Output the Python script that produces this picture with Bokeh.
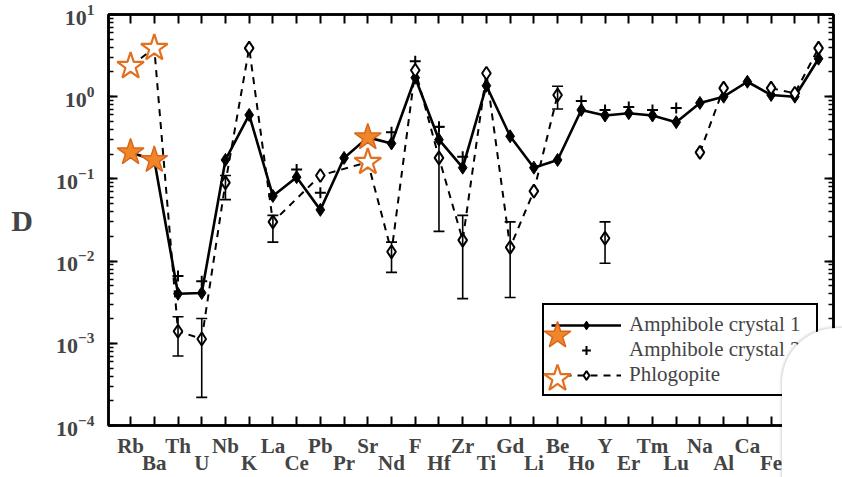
import math
from bokeh.plotting import figure
from bokeh.models import (ColumnDataSource, FixedTicker, LinearAxis, LogAxis, LogTicker,
                          Whisker, TeeHead, Legend, LegendItem, CustomJSTickFormatter,
                          Range1d, Div, Column)
from bokeh.embed import file_html
from bokeh.resources import INLINE

nan = float("nan")

# ---- data ----
elements = ["Rb", "Ba", "Th", "U", "Nb", "K", "La", "Ce", "Pb", "Pr", "Sr", "Nd", "F", "Hf", "Zr",
            "Ti", "Gd", "Li", "Be", "Ho", "Y", "Er", "Tm", "Lu", "Na", "Al", "Ca", "Fe", "Si", "Mg"]

amph1 = [0.21, 0.17, 0.0040, 0.0041, 0.17, 0.60, 0.062, 0.105, 0.042, 0.18, 0.32, 0.27, 1.70, 0.30, 0.137,
         1.36, 0.33, 0.137, 0.17, 0.69, 0.59, 0.63, 0.59, 0.49, 0.84, 1.0, 1.52, 1.05, 1.0, 2.9]

amph2 = [nan, nan, 0.0066, 0.0057, nan, nan, nan, 0.13, 0.068, nan, nan, 0.37, 2.7, 0.43, 0.186,
         nan, nan, nan, nan, 0.885, 0.69, 0.75, 0.69, 0.73, nan, nan, nan, nan, nan, nan]

phlog = [2.35, 3.9, 0.0014, 0.00113, 0.09, 3.9, 0.030, nan, 0.11, nan, 0.16, 0.013, 2.1, 0.18, 0.018,
         1.93, 0.0147, 0.071, 1.05, nan, 0.019, nan, nan, nan, 0.21, 1.27, nan, 1.27, 1.1, 3.9]

phlog_lo = [nan, nan, 0.00070, 0.00022, 0.056, nan, 0.017, nan, nan, nan, nan, 0.0073, nan, 0.023, 0.0035,
            nan, 0.0036, nan, 0.71, nan, 0.0094, nan, nan, nan, nan, nan, nan, nan, nan, nan]
phlog_hi = [nan, nan, 0.0021, 0.0020, 0.11, nan, 0.036, nan, nan, nan, nan, 0.017, nan, 0.43, 0.036,
            nan, 0.030, nan, 1.34, nan, 0.030, nan, nan, nan, nan, nan, nan, nan, nan, nan]

# dashed phlogopite line is interrupted after these elements
phlog_breaks_after = ["Be", "Y", "Al"]
# points emphasised with orange stars
highlight = ["Rb", "Ba", "Sr"]

FONT = "Liberation Serif"

idx = list(range(len(elements)))

p = figure(width=842, height=477, y_axis_type="log", output_backend="svg", toolbar_location=None,
           x_range=Range1d(-0.93, 29.63), y_range=Range1d(1e-4, 10),
           min_border_left=108, min_border_right=9, min_border_top=14, min_border_bottom=40)
p.background_fill_color = "white"
p.border_fill_color = "white"
p.xgrid.visible = False
p.ygrid.visible = False
p.outline_line_color = "black"
p.outline_line_width = 2.5

# ---- amphibole crystal 1 ----
src1 = ColumnDataSource(dict(x=idx, y=amph1))
amph_line = p.line("x", "y", source=src1, line_color="black", line_width=2.6)
amph_pts = p.scatter("x", "y", source=src1, marker="diamond", size=13, fill_color="black",
                     line_color="black", line_width=1)

# ---- amphibole crystal 2 ----
src2 = ColumnDataSource(dict(x=[i for i in idx if not math.isnan(amph2[i])],
                             y=[v for v in amph2 if not math.isnan(v)]))
amph2_pts = p.scatter("x", "y", source=src2, marker="cross", size=11, line_color="black", line_width=2)

# ---- phlogopite ----
lx, ly = [], []
for i in idx:
    if math.isnan(phlog[i]):
        continue
    lx.append(i)
    ly.append(phlog[i])
    if elements[i] in phlog_breaks_after:
        lx.append(i + 0.5)
        ly.append(nan)
phlog_line = p.line(lx, ly, line_color="black", line_width=2, line_dash="7 6")

ei = [i for i in idx if not math.isnan(phlog_lo[i])]
srcE = ColumnDataSource(dict(x=ei, lo=[phlog_lo[i] for i in ei], hi=[phlog_hi[i] for i in ei]))
wh = Whisker(base="x", lower="lo", upper="hi", source=srcE, line_color="black", line_width=1.6,
             upper_head=TeeHead(size=11, line_color="black", line_width=1.6),
             lower_head=TeeHead(size=11, line_color="black", line_width=1.6), level="glyph")
p.add_layout(wh)

pi = [i for i in idx if not math.isnan(phlog[i])]
src3 = ColumnDataSource(dict(x=pi, y=[phlog[i] for i in pi]))
phlog_pts = p.scatter("x", "y", source=src3, marker="diamond", size=13, fill_color="white",
                      line_color="black", line_width=2)

# ---- orange emphasis stars ----
hi_i = [elements.index(e) for e in highlight]
srcS1 = ColumnDataSource(dict(x=hi_i, y=[amph1[i] for i in hi_i]))
srcS2 = ColumnDataSource(dict(x=hi_i, y=[phlog[i] for i in hi_i]))
star_f = p.scatter("x", "y", source=srcS1, marker="star", size=28, fill_color="#F0862A",
                   line_color="#D9661A", line_width=1.5)
star_o = p.scatter("x", "y", source=srcS2, marker="star", size=28, fill_color="white",
                   line_color="#E2701F", line_width=2.2)

# ---- axes ----
ticks_x = FixedTicker(ticks=idx)

def style_axis(ax):
    ax.axis_line_width = 2.5
    ax.major_tick_line_width = 2
    ax.minor_tick_line_width = 1.6
    ax.major_tick_out = 0
    ax.minor_tick_out = 0
    ax.major_tick_in = 9
    ax.minor_tick_in = 5

xa = p.xaxis[0]
xa.ticker = ticks_x
xa.major_label_overrides = {i: (elements[i] if i % 2 == 0 else "") for i in idx}
style_axis(xa)
xa.major_label_text_font = FONT
xa.major_label_text_font_style = "bold"
xa.major_label_text_font_size = "21px"
xa.major_label_standoff = 8

xb = LinearAxis(ticker=ticks_x, major_label_overrides={i: (elements[i] if i % 2 == 1 else "") for i in idx})
xb.axis_line_color = None
xb.major_tick_line_color = None
xb.minor_tick_line_color = None
xb.major_tick_in = 0
xb.major_tick_out = 0
xb.major_label_text_font = FONT
xb.major_label_text_font_style = "bold"
xb.major_label_text_font_size = "21px"
xb.major_label_standoff = -10
p.add_layout(xb, "below")

xt = LinearAxis(ticker=FixedTicker(ticks=idx), formatter=CustomJSTickFormatter(code="return ''"))
style_axis(xt)
xt.major_label_standoff = 0
p.add_layout(xt, "above")

ya = p.yaxis[0]
ya.ticker = LogTicker(num_minor_ticks=10)
style_axis(ya)
ya.major_label_text_font = FONT
ya.major_label_text_font_style = "bold"
ya.major_label_text_font_size = "22px"
ya.major_label_standoff = 14
ya.axis_label = "D"
ya.axis_label_text_font = FONT
ya.axis_label_text_font_style = "bold"
ya.axis_label_text_font_size = "30px"
ya.axis_label_orientation = "horizontal"
ya.axis_label_standoff = 20

yr = LogAxis(ticker=LogTicker(num_minor_ticks=10), formatter=CustomJSTickFormatter(code="return ''"))
style_axis(yr)
yr.major_label_standoff = 0
p.add_layout(yr, "right")

# ---- legend ----
legend = Legend(items=[
    LegendItem(label="Amphibole crystal 1", renderers=[amph_line, amph_pts]),
    LegendItem(label="Amphibole crystal 2", renderers=[amph2_pts]),
    LegendItem(label="Phlogopite", renderers=[phlog_line, phlog_pts]),
], location=(434, 29))
legend.label_text_font = FONT
legend.label_text_font_size = "21px"
legend.glyph_width = 70
legend.glyph_height = 22
legend.label_height = 22
legend.label_width = 180
legend.spacing = 0
legend.padding = 7
legend.margin = 0
legend.label_standoff = 8
legend.border_line_color = "black"
legend.border_line_alpha = 1
legend.border_line_width = 2.5
legend.background_fill_color = "white"
legend.background_fill_alpha = 1
p.add_layout(legend)

for rend, loc in ((star_f, (414, 55)), (star_o, (414, 12))):
    lg = Legend(items=[LegendItem(label=" ", renderers=[rend])], location=loc)
    lg.glyph_width = 70
    lg.glyph_height = 70
    lg.label_width = 1
    lg.label_standoff = 0
    lg.padding = 0
    lg.margin = 0
    lg.border_line_color = None
    lg.background_fill_alpha = 0
    p.add_layout(lg)

# white sheet lying over the lower-right corner of the scanned page
cover = Div(text="", width=80, height=160,
            styles={"position": "absolute", "left": "777px", "top": "323px",
                    "width": "80px", "height": "160px", "background-color": "white",
                    "border-top-left-radius": "55px", "z-index": "10",
                    "box-shadow": "-1px -1px 3px rgba(0,0,0,0.18)"})

page = Column(children=[p, cover], spacing=0)

open("out.html", "w").write(file_html(page, INLINE))
